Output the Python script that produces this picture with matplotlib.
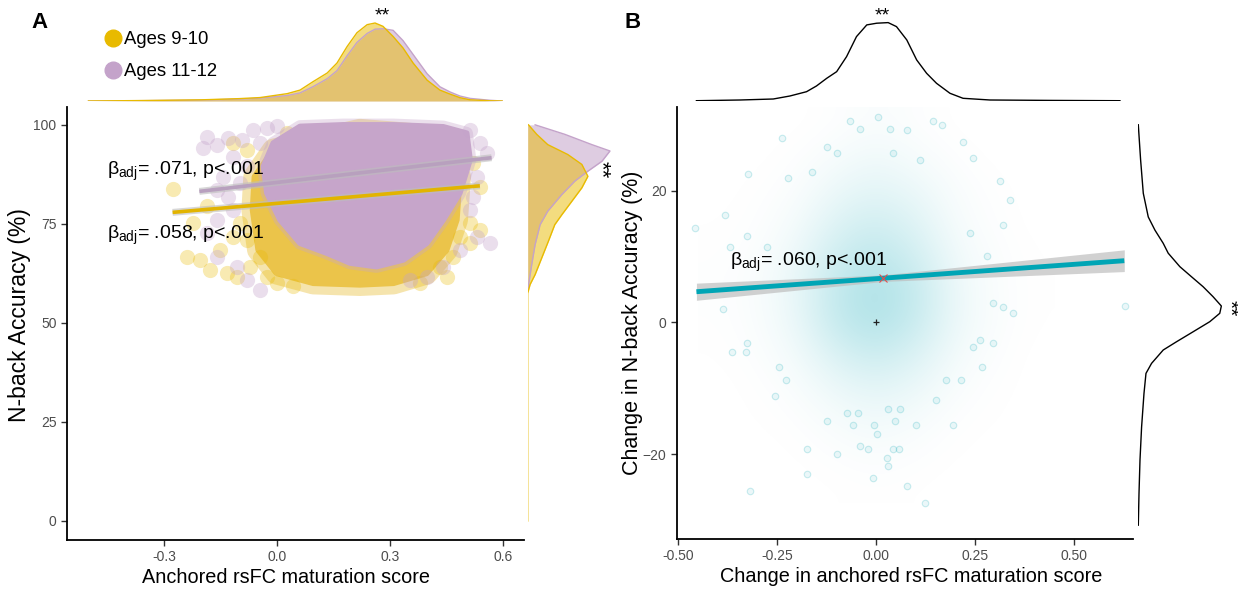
import numpy as np
import matplotlib.pyplot as plt
from matplotlib.lines import Line2D
from matplotlib.patches import Polygon
from matplotlib.colors import LinearSegmentedColormap

plt.rcParams['font.family'] = ['Liberation Sans', 'DejaVu Sans']
plt.rcParams['mathtext.fontset'] = 'custom'
plt.rcParams['mathtext.rm'] = 'Liberation Sans'
plt.rcParams['mathtext.it'] = 'Liberation Sans:italic'

# ---------------- data: panel A ----------------
# top marginal (maturation score density)
topA_x = [-0.50, -0.35, -0.20, -0.10, -0.045, 0.027, 0.061, 0.095, 0.133, 0.159, 0.186,
          0.212, 0.239, 0.260, 0.281, 0.308, 0.334, 0.361, 0.398, 0.432, 0.459, 0.485,
          0.512, 0.565, 0.597]
topA_young = [0.0, 0.02, 0.05, 0.10, 0.145, 0.31, 0.46, 0.81, 1.18, 1.60, 2.30, 2.88, 3.22,
              3.29, 3.15, 2.72, 2.24, 1.60, 0.88, 0.46, 0.29, 0.14, 0.05, 0.01, 0.0]
topA_old = [0.0, 0.015, 0.04, 0.08, 0.12, 0.23, 0.34, 0.60, 0.94, 1.28, 1.91, 2.47, 2.85,
            3.03, 3.05, 2.98, 2.55, 1.96, 1.15, 0.60, 0.38, 0.21, 0.11, 0.03, 0.0]

# right marginal (N-back accuracy density)
rightA_old_acc = [100, 97.6, 95.0, 93.4, 90.8, 88.3, 85.8, 82.4, 78.2, 74.8, 69.8, 64.7, 60.5, 58.0]
rightA_old_d = [0.0037, 0.0185, 0.032, 0.041, 0.037, 0.030, 0.0235, 0.017, 0.010, 0.0062,
                0.0037, 0.002, 0.0007, 0.0]
rightA_young_acc = [100, 97.6, 95.0, 92.5, 90.0, 87.0, 84.1, 80.7, 77.3, 74.8, 70.6, 66.4,
                    62.2, 59.7, 57.5, 40, 20, 0]
rightA_young_d = [0.0004, 0.0045, 0.010, 0.020, 0.027, 0.030, 0.027, 0.022, 0.017, 0.0135,
                  0.0103, 0.007, 0.0037, 0.0012, 0.0, 0.0, 0.0, 0.0]

# dense cores of the two scatter clouds (score, accuracy outline)
coreA_young_x = [-0.060, -0.010, 0.220, 0.441, 0.485, 0.477, 0.450, 0.397, 0.309, 0.220,
                 0.096, -0.001, -0.050, -0.065]
coreA_young_y = [86.9, 93.7, 98.7, 97.0, 86.9, 76.0, 68.4, 62.5, 60.0, 59.6, 60.0, 62.5, 68.4, 78.5]
coreA_old_x = [0.061, 0.176, 0.309, 0.441, 0.503, 0.512, 0.485, 0.441, 0.397, 0.335, 0.264,
               0.194, 0.132, 0.061, 0.008, -0.027, -0.036, -0.010]
coreA_old_y = [99.6, 100.0, 100.0, 99.5, 97.9, 91.2, 82.8, 76.0, 70.1, 65.9, 64.2, 65.1, 67.6,
               70.1, 76.0, 82.8, 89.5, 95.4]

# individual points visible on the cloud fringes
ptsA_old_x = [-0.187, -0.160, -0.195, -0.129, -0.094, -0.063, -0.027, -0.001, -0.116, -0.142,
              -0.160, -0.129, -0.116, -0.160, -0.187, -0.160, -0.107, -0.080, -0.045, 0.512,
              0.538, 0.556, 0.530, 0.521, 0.512, 0.565, 0.530, 0.485, 0.441, 0.397, 0.353,
              -0.045, -0.080, -0.098]
ptsA_old_y = [97.0, 94.9, 94.1, 96.6, 96.2, 98.7, 99.2, 99.6, 92.0, 86.9, 83.6, 81.9, 78.5,
              76.0, 72.7, 66.7, 64.2, 60.9, 58.3, 98.7, 95.4, 92.8, 86.9, 81.9, 78.5, 70.1,
              71.8, 68.4, 64.2, 61.7, 60.9, 95.4, 89.5, 85.3]
ptsA_young_x = [-0.277, -0.116, -0.080, 0.026, 0.521, 0.538, 0.512, 0.538, 0.485, 0.468,
                0.432, 0.379, -0.240, -0.204, -0.178, -0.151, -0.133, -0.107, -0.072, -0.045,
                -0.027, -0.001, 0.043, -0.080, -0.098, -0.116, 0.450, 0.512, -0.222, -0.187]
ptsA_young_y = [83.8, 95.4, 93.7, 97.9, 90.3, 84.4, 75.2, 73.5, 71.8, 66.7, 64.2, 60.0, 66.7,
                65.9, 63.4, 68.4, 62.5, 61.7, 64.2, 66.7, 61.7, 60.0, 59.2, 71.0, 75.2, 71.8,
                61.7, 70.1, 75.2, 79.4]

# fitted lines
fitA_old_x = [-0.206, 0.569]
fitA_old_y = [83.2, 91.7]
fitA_young_x = [-0.277, 0.538]
fitA_young_y = [77.9, 84.6]

# ---------------- data: panel B ----------------
topB_x = [-0.453, -0.343, -0.259, -0.217, -0.175, -0.150, -0.124, -0.099, -0.074, -0.049,
          -0.023, 0.002, 0.031, 0.052, 0.078, 0.103, 0.128, 0.153, 0.187, 0.220, 0.288,
          0.44, 0.616]
topB_d = [0.0, 0.035, 0.085, 0.235, 0.45, 0.735, 1.12, 1.45, 2.2, 3.2, 3.785, 3.87, 3.9,
          3.7, 3.035, 2.035, 1.37, 0.87, 0.37, 0.12, 0.035, 0.015, 0.0]

rightB_acc = [30.0, 24.7, 19.6, 16.0, 14.0, 12.0, 10.5, 8.45, 6.93, 5.41, 3.89, 2.48, 1.37,
              0.1, -1.43, -2.95, -4.2, -6.23, -7.75, -10.8, -15.9, -20.9, -26.0, -30.8]
rightB_d = [0.0, 0.0023, 0.005, 0.010, 0.0167, 0.025, 0.030, 0.0417, 0.0533, 0.065, 0.075,
            0.0833, 0.0817, 0.0717, 0.055, 0.0383, 0.025, 0.0133, 0.0077, 0.0057, 0.0033,
            0.0017, 0.0007, 0.0]

# how crowded the scatter looks, read on a coarse grid
gridB_x = [-0.4, -0.3, -0.2, -0.1, 0.0, 0.1, 0.2, 0.3, 0.4]
gridB_y = [-25, -20, -15, -10, -5, 0, 5, 10, 15, 20, 25, 30]
gridB_density = [
    [0.00, 0.00, 0.00, 0.01, 0.02, 0.01, 0.00, 0.00, 0.00],
    [0.00, 0.00, 0.01, 0.04, 0.07, 0.04, 0.01, 0.00, 0.00],
    [0.00, 0.01, 0.03, 0.10, 0.16, 0.10, 0.03, 0.01, 0.00],
    [0.00, 0.02, 0.07, 0.22, 0.32, 0.22, 0.07, 0.02, 0.00],
    [0.01, 0.04, 0.14, 0.42, 0.58, 0.40, 0.13, 0.04, 0.00],
    [0.02, 0.06, 0.22, 0.65, 0.85, 0.60, 0.20, 0.06, 0.01],
    [0.03, 0.07, 0.25, 0.68, 0.90, 0.65, 0.20, 0.06, 0.01],
    [0.02, 0.05, 0.20, 0.55, 0.72, 0.50, 0.16, 0.05, 0.01],
    [0.01, 0.03, 0.12, 0.38, 0.52, 0.36, 0.10, 0.03, 0.00],
    [0.00, 0.02, 0.06, 0.22, 0.32, 0.22, 0.07, 0.02, 0.00],
    [0.00, 0.00, 0.03, 0.10, 0.18, 0.10, 0.03, 0.00, 0.00],
    [0.00, 0.00, 0.00, 0.03, 0.08, 0.04, 0.00, 0.00, 0.00],
]

ptsB_x = [-0.364, -0.328, -0.325, -0.255, -0.226, -0.244, -0.175, -0.175, -0.318, -0.099,
          -0.124, -0.040, -0.019, -0.007, 0.027, 0.030, 0.044, 0.059, 0.079, 0.124, -0.059,
          -0.005, 0.002, 0.048, 0.101, 0.195, 0.153, 0.061, 0.031, -0.045, -0.074, 0.267,
          0.216, 0.296, 0.246, 0.177, 0.629, 0.006, -0.066, -0.238, 0.221, 0.145, 0.166,
          -0.124, -0.322, -0.221, -0.381, -0.457, -0.325, 0.313, 0.321, 0.246, 0.338,
          -0.162, 0.078, -0.040, 0.035, -0.099, 0.044, 0.111, -0.276, -0.369, -0.386,
          0.321, 0.347, 0.296, 0.263, 0.237, 0.280]
ptsB_y = [-4.47, -4.47, -3.19, -11.2, -8.77, -6.75, -19.3, -23.1, -25.6, -20.0, -15.0, -18.8,
          -19.3, -23.7, -20.6, -21.8, -19.3, -19.3, -24.9, -27.4, -15.6, -15.6, -16.9, -15.0,
          -15.6, -15.6, -11.8, -13.1, -13.1, -13.7, -13.7, -6.84, -8.77, -3.19, -3.71, -8.77,
          2.48, 31.2, 30.5, 28.0, 27.4, 30.5, 30.0, 26.7, 22.5, 21.9, 16.3, 14.3, 13.1, 21.4,
          14.8, 24.9, 18.6, 22.9, 29.2, 29.3, 29.3, 25.7, 25.7, 24.7, 11.5, 11.5, 2.1, 2.4,
          1.4, 2.9, -2.7, 13.5, 10.0]

fitB_x = [-0.453, 0.627]
fitB_y = [4.65, 9.36]
bandB_x = [-0.453, 0.02, 0.627]
bandB_half = [1.3, 0.5, 1.65]
meanB_x, meanB_y = 0.018, 6.8

# ---------------- styling ----------------
yellow = '#E8BA00'
purple = '#C4A3CA'
teal = '#00A5B5'
W, H = 1238, 591

fig = plt.figure(figsize=(W / 100, H / 100), dpi=100)


def px_box(left, top, right, bottom):
    return [left / W, 1 - bottom / H, (right - left) / W, (bottom - top) / H]


def style_main(ax):
    for s in ['top', 'right']:
        ax.spines[s].set_visible(False)
    for s in ['left', 'bottom']:
        ax.spines[s].set_linewidth(1.3)
    ax.tick_params(direction='out', length=4, width=1, color='#333333',
                   labelcolor='#4D4D4D', labelsize=10)


def bare(ax):
    ax.axis('off')


def cloud_core(ax, xs, ys, color, halo_lw, halo_alpha):
    pts = np.column_stack([xs, ys])
    # soft halo first so the edge fades like overlapping dots
    ax.add_patch(Polygon(pts, closed=True, facecolor='none', edgecolor=color,
                         lw=halo_lw, alpha=halo_alpha, joinstyle='round'))
    ax.add_patch(Polygon(pts, closed=True, facecolor=color, edgecolor=color,
                         lw=4, joinstyle='round'))


# ---------------- panel A ----------------
axA = fig.add_axes(px_box(67, 107, 524, 540))
axA_top = fig.add_axes(px_box(67, 14, 524, 101))
axA_right = fig.add_axes(px_box(527.7, 107, 620, 540))

cloud_core(axA, coreA_young_x, coreA_young_y, '#EBC44A', 16, 0.45)
axA.scatter(ptsA_young_x, ptsA_young_y, s=120, color=yellow, alpha=0.3, lw=0)
cloud_core(axA, coreA_old_x, coreA_old_y, '#C6A5CA', 9, 0.35)
axA.scatter(ptsA_old_x, ptsA_old_y, s=120, color=purple, alpha=0.35, lw=0)

for fx, fy, c in [(fitA_old_x, fitA_old_y, '#B8A0BE'), (fitA_young_x, fitA_young_y, '#E2B400')]:
    axA.plot(fx, fy, color='#BDBDBD', lw=5, alpha=0.6, solid_capstyle='butt')
    axA.plot(fx, fy, color=c, lw=2.6, solid_capstyle='butt')

axA.text(-0.451, 87.4, r'$\mathrm{\beta_{adj}}$= .071, p<.001', fontsize=14, va='baseline')
axA.text(-0.451, 71.1, r'$\mathrm{\beta_{adj}}$= .058, p<.001', fontsize=14, va='baseline')

axA.set_xlim(-0.557, 0.655)
axA.set_ylim(-4.8, 104.5)
axA.set_xticks([-0.3, 0.0, 0.3, 0.6])
axA.set_xticklabels(['-0.3', '0.0', '0.3', '0.6'])
axA.set_yticks([0, 25, 50, 75, 100])
style_main(axA)
axA.set_xlabel('Anchored rsFC maturation score', fontsize=14.3)
axA.set_ylabel('N-back Accuracy (%)', fontsize=16.5)
axA.xaxis.set_label_coords(0.48, -0.064)
axA.yaxis.set_label_coords(-0.079, 0.52)

axA_top.fill_between(topA_x, topA_old, color=purple, alpha=0.55, lw=0)
axA_top.plot(topA_x, topA_old, color=purple, lw=1)
axA_top.fill_between(topA_x, topA_young, color=yellow, alpha=0.5, lw=0)
axA_top.plot(topA_x, topA_young, color=yellow, lw=1)
axA_top.set_xlim(axA.get_xlim())
axA_top.set_ylim(0, 3.67)
bare(axA_top)

axA_right.fill_betweenx(rightA_old_acc, rightA_old_d, color=purple, alpha=0.55, lw=0)
axA_right.plot(rightA_old_d, rightA_old_acc, color=purple, lw=1)
axA_right.fill_betweenx(rightA_young_acc, rightA_young_d, color=yellow, alpha=0.5, lw=0)
axA_right.plot(rightA_young_d, rightA_young_acc, color=yellow, lw=1)
axA_right.set_ylim(axA.get_ylim())
axA_right.set_xlim(0, 0.046)
bare(axA_right)

handles = [Line2D([], [], marker='o', ls='', color=yellow, markersize=12),
           Line2D([], [], marker='o', ls='', color=purple, markersize=12)]
fig.legend(handles, ['Ages 9-10', 'Ages 11-12'], loc='upper left',
           bbox_to_anchor=(93 / W, 1 - 22 / H), frameon=False, fontsize=13.3,
           handletextpad=0.0, labelspacing=0.82, borderpad=0, handlelength=1.2)

fig.text(382 / W, 1 - 16 / H, '**', fontsize=14, ha='center', va='center')
fig.text(601 / W, 1 - 170 / H, '**', fontsize=16, ha='center', va='center', rotation=270)
fig.text(40 / W, 1 - 22 / H, 'A', fontsize=16, fontweight='bold', ha='center', va='center')

# ---------------- panel B ----------------
axB = fig.add_axes(px_box(677, 107, 1133, 539))
axB_top = fig.add_axes(px_box(677, 14, 1133, 100.7))
axB_right = fig.add_axes(px_box(1138.3, 107, 1238, 539))

haze = LinearSegmentedColormap.from_list(
    'haze', [(0, 0.647, 0.71, 0.0), (0, 0.647, 0.71, 0.36)])
axB.imshow(np.array(gridB_density), cmap=haze, vmin=0, vmax=1, origin='lower',
           extent=[gridB_x[0] - 0.05, gridB_x[-1] + 0.05, gridB_y[0] - 2.5, gridB_y[-1] + 2.5],
           aspect='auto', interpolation='bicubic', zorder=1)
axB.scatter(ptsB_x, ptsB_y, s=22, facecolor=(0, 0.647, 0.71, 0.08),
            edgecolor=(0, 0.647, 0.71, 0.2), lw=0.8, zorder=2)

band_lo = [m - h for m, h in zip(np.interp(bandB_x, fitB_x, fitB_y), bandB_half)]
band_hi = [m + h for m, h in zip(np.interp(bandB_x, fitB_x, fitB_y), bandB_half)]
axB.fill_between(bandB_x, band_lo, band_hi, color='#BEBEBE', alpha=0.7, lw=0, zorder=3)
axB.plot(fitB_x, fitB_y, color=teal, lw=3.5, zorder=4, solid_capstyle='butt')
axB.plot([meanB_x], [meanB_y], marker='x', color='#E05050', markersize=6, mew=0.8, zorder=5)
axB.plot([0], [0], marker='+', color='#222222', markersize=5, mew=0.9, zorder=5)

axB.text(-0.369, 8.6, r'$\mathrm{\beta_{adj}}$= .060, p<.001', fontsize=14, va='baseline', zorder=6)

axB.set_xlim(-0.502, 0.649)
axB.set_ylim(-32.9, 32.7)
axB.set_xticks([-0.5, -0.25, 0.0, 0.25, 0.5])
axB.set_xticklabels(['-0.50', '-0.25', '0.00', '0.25', '0.50'])
axB.set_yticks([-20, 0, 20])
style_main(axB)
axB.set_xlabel('Change in anchored rsFC maturation score', fontsize=14.3)
axB.set_ylabel('Change in N-back Accuracy (%)', fontsize=15.5)
axB.xaxis.set_label_coords(0.513, -0.064)
axB.yaxis.set_label_coords(-0.075, 0.5)

axB_top.plot(topB_x, topB_d, color='black', lw=1)
axB_top.set_xlim(axB.get_xlim())
axB_top.set_ylim(0, 4.33)
bare(axB_top)

axB_right.plot(rightB_d, rightB_acc, color='black', lw=1)
axB_right.set_ylim(axB.get_ylim())
axB_right.set_xlim(0, 0.1)
bare(axB_right)

fig.text(882 / W, 1 - 16 / H, '**', fontsize=14, ha='center', va='center')
fig.text(1229 / W, 1 - 308 / H, '**', fontsize=15, ha='center', va='center', rotation=270)
fig.text(633 / W, 1 - 22 / H, 'B', fontsize=16, fontweight='bold', ha='center', va='center')

fig.savefig('out.png', dpi=100)
